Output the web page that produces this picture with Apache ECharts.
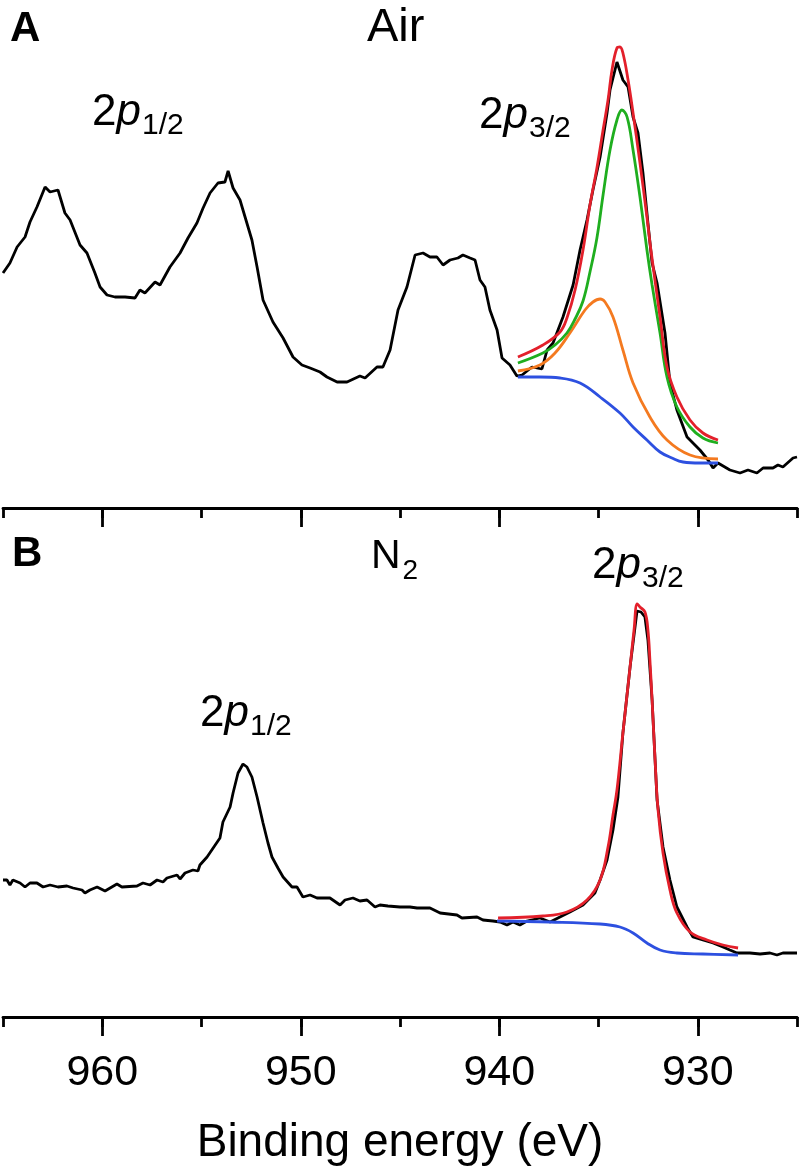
<!DOCTYPE html>
<html><head><meta charset="utf-8">
<script src="https://cdn.jsdelivr.net/npm/echarts@6/dist/echarts.min.js"></script>
<style>html,body{margin:0;padding:0;background:#fff}#c{width:807px;height:1172px}</style>
</head><body><div id="c"></div><script>
// ---------- data (binding energy eV, intensity a.u.) ----------
const labelTicks = [960, 950, 940, 930];

// Panel A: Air
const airRaw = [[965.00,235],[964.65,245],[964.29,261],[963.89,271],[963.64,286],[963.29,301],[962.88,321],[962.63,316],[962.23,318],[961.88,295],[961.62,288],[961.12,263],[960.77,255],[960.37,235],[960.11,221],[959.76,213],[959.36,211],[958.85,211],[958.35,210],[958.10,218],[957.85,215],[957.34,226],[957.09,223],[956.59,241],[956.08,255],[955.68,270],[955.23,285],[954.92,300],[954.57,315],[954.17,325],[953.82,326],[953.66,337],[953.41,320],[953.06,308],[952.46,268],[952.20,241],[951.90,208],[951.40,186],[950.89,170],[950.39,151],[949.94,143],[949.53,140],[949.03,136],[948.68,131],[948.17,126],[947.67,126],[947.02,132],[946.76,130],[946.16,141],[945.86,141],[945.50,158],[945.10,198],[944.65,221],[944.24,253],[943.84,255],[943.49,251],[943.14,251],[942.83,243],[942.48,248],[942.08,250],[941.83,253],[941.47,250],[941.22,248],[940.97,228],[940.72,221],[940.47,198],[940.11,178],[939.86,150],[939.46,143],[939.11,132],[938.85,133],[938.35,141],[937.85,139],[937.59,158],[937.29,165],[936.79,191],[936.28,223],[935.93,258],[935.58,288],[935.28,318],[934.92,351],[934.57,395],[934.42,418],[934.07,446],[934.02,448],[933.77,428],[933.51,421],[933.26,391],[933.01,375],[932.76,335],[932.51,285],[932.30,245],[932.05,225],[931.65,175],[931.40,125],[931.05,98],[930.54,71],[929.89,58],[929.48,48],[929.23,40],[928.98,45],[928.38,38],[927.87,35],[927.47,38],[927.02,35],[926.71,40],[926.21,40],[925.96,43],[925.71,41],[925.20,50],[925.00,51]];
const airFit = [[939.06,151],[937.80,163],[936.94,176],[936.59,190],[936.18,218],[935.78,258],[935.43,303],[935.08,340],[934.77,378],[934.52,408],[934.32,438],[934.07,460],[933.92,461],[933.77,455],[933.51,428],[933.26,395],[932.91,345],[932.56,291],[932.36,258],[931.90,191],[931.55,141],[931.05,111],[930.39,88],[929.74,75],[928.98,68]];
const airPeak1 = [[939.06,145],[937.80,155],[937.19,163],[936.59,175],[936.18,189],[935.78,207],[935.43,236],[935.08,270],[934.77,313],[934.42,358],[934.07,388],[933.82,398],[933.56,391],[933.26,358],[932.91,311],[932.56,258],[932.30,223],[931.90,175],[931.55,131],[931.05,101],[930.39,81],[929.74,70],[928.98,65]];
const airPeak2 = [[939.06,137],[937.95,143],[937.19,155],[936.44,175],[935.68,198],[935.28,206],[934.92,209],[934.67,206],[934.27,191],[933.77,158],[933.26,125],[932.41,91],[931.55,68],[930.39,53],[928.98,49]];
const airBg = [[939.06,131],[937.95,131],[936.94,130],[935.93,125],[934.92,111],[933.92,95],[933.26,81],[932.56,68],[931.90,56],[931.30,50],[930.74,46],[929.89,45],[928.98,45]];

// Panel B: N2
const n2Raw = [[965.00,137],[964.80,137],[964.65,132],[964.50,137],[964.14,134],[963.89,130],[963.64,134],[963.29,134],[962.98,130],[962.63,132],[962.23,130],[961.78,131],[961.47,129],[961.02,127],[960.87,124],[960.62,127],[960.26,130],[959.86,126],[959.26,133],[959.01,130],[958.25,131],[957.95,134],[957.59,132],[957.24,137],[956.94,135],[956.74,139],[956.23,142],[956.08,138],[955.83,144],[955.43,147],[955.18,146],[955.08,152],[954.72,160],[954.07,179],[953.92,195],[953.56,210],[953.41,224],[953.16,244],[952.91,253],[952.71,250],[952.46,240],[952.20,220],[951.90,194],[951.65,174],[951.45,160],[951.15,149],[950.89,140],[950.44,130],[950.19,130],[949.89,120],[949.53,122],[949.18,119],[948.53,119],[948.02,112],[947.77,117],[947.37,119],[947.02,116],[946.66,117],[946.26,110],[946.01,112],[945.61,111],[945.00,110],[944.50,110],[944.14,109],[943.49,109],[942.98,104],[942.13,102],[941.88,99],[941.12,100],[940.82,97],[940.32,96],[939.96,95],[939.61,92],[939.31,95],[938.96,92],[938.60,96],[937.95,99],[937.44,95],[936.94,100],[936.44,105],[935.78,112],[935.18,124],[934.92,137],[934.57,157],[934.27,187],[934.02,220],[933.77,284],[933.41,350],[933.06,406],[932.86,405],[932.66,400],[932.51,377],[932.30,317],[932.05,217],[931.75,170],[931.40,137],[931.05,110],[930.54,90],[930.24,80],[929.74,77],[929.23,74],[928.73,70],[928.38,67],[928.02,64],[927.37,64],[926.86,63],[926.36,64],[926.01,62],[925.71,64],[925.00,64]];
const n2Fit = [[940.06,99],[937.80,101],[936.59,105],[935.58,117],[934.92,137],[934.52,170],[934.27,202],[934.07,227],[933.77,284],[933.41,350],[933.21,387],[933.05,413],[932.91,410],[932.66,405],[932.51,387],[932.41,357],[932.30,317],[932.15,257],[932.00,207],[931.75,164],[931.40,127],[931.05,104],[930.39,85],[929.53,77],[928.73,72],[927.97,69]];
const n2Bg = [[940.11,96],[937.44,95],[934.92,93],[933.92,90],[933.26,84],[932.56,74],[931.90,67],[931.05,64],[929.74,63],[927.97,62]];

// ---------- styling ----------
const FONT = '"Liberation Sans", Arial, Helvetica, sans-serif';
const BLACK = '#000';
const RED = '#e3202b', GREEN = '#1fae1f', ORANGE = '#f47a20', BLUE = '#2d50e0';

function xAxes(gridIndex, showLabels) {
  const common = { type: 'value', gridIndex, min: 925, max: 965, inverse: true, position: 'bottom', splitLine: { show: false } };
  return [
    Object.assign({}, common, {
      interval: 5,
      axisLine: { show: true, onZero: false, lineStyle: { color: BLACK, width: 2.8 } },
      axisTick: { show: true, length: 10, lineStyle: { color: BLACK, width: 2.8 } },
      axisLabel: { show: false }
    }),
    Object.assign({}, common, {
      interval: 5,
      axisLine: { show: false, onZero: false },
      axisTick: { show: true, length: 19, customValues: labelTicks, lineStyle: { color: BLACK, width: 2.8 } },
      axisLabel: { show: showLabels, customValues: labelTicks, margin: 35, fontSize: 43, color: BLACK, fontFamily: FONT },
      name: showLabels ? 'Binding energy (eV)' : '',
      nameLocation: 'middle', nameGap: 103,
      nameTextStyle: { fontSize: 46, color: BLACK, fontFamily: FONT }
    })
  ];
}

function line(data, color, xi, yi, smooth) {
  return { type: 'line', data, xAxisIndex: xi, yAxisIndex: yi, showSymbol: false, symbol: 'none',
    smooth: smooth ? 0.4 : false, lineStyle: { color, width: 2.8 }, silent: true, clip: true };
}

function peakLabel(x, y, sub) {
  return { type: 'text', x, y, style: {
    text: '{n|2}{i|p}{s|' + sub + '}', verticalAlign: 'top', align: 'left', fill: BLACK,
    rich: {
      n: { fontSize: 44, fontFamily: FONT, lineHeight: 44, verticalAlign: 'top', fill: BLACK },
      i: { fontSize: 44, fontFamily: FONT, fontStyle: 'italic', lineHeight: 44, verticalAlign: 'top', fill: BLACK },
      s: { fontSize: 30, fontFamily: FONT, lineHeight: 30, verticalAlign: 'top', padding: [20, 0, 0, 1], fill: BLACK }
    } } };
}

const option = {
  animation: false,
  backgroundColor: '#fff',
  grid: [
    { left: 3, right: 10, top: 8, height: 500 },
    { left: 3, right: 10, top: 517, height: 500 }
  ],
  xAxis: [].concat(xAxes(0, false), xAxes(1, true)),
  yAxis: [
    { type: 'value', gridIndex: 0, min: 0, max: 500, show: false },
    { type: 'value', gridIndex: 1, min: 0, max: 500, show: false }
  ],
  series: [
    line(airRaw, BLACK, 0, 0, false),
    line(airBg, BLUE, 0, 0, true),
    line(airPeak2, ORANGE, 0, 0, true),
    line(airPeak1, GREEN, 0, 0, true),
    line(airFit, RED, 0, 0, true),
    line(n2Raw, BLACK, 2, 1, false),
    line(n2Bg, BLUE, 2, 1, true),
    line(n2Fit, RED, 2, 1, true)
  ],
  graphic: [
    { type: 'text', x: 10, y: 29, style: { text: 'A', font: 'bold 42px ' + FONT, fill: BLACK, verticalAlign: 'middle' } },
    { type: 'text', x: 367, y: 28, style: { text: 'Air', font: '47px ' + FONT, fill: BLACK, verticalAlign: 'middle' } },
    peakLabel(92, 91, '1/2'),
    peakLabel(479, 94, '3/2'),
    { type: 'text', x: 12, y: 554, style: { text: 'B', font: 'bold 42px ' + FONT, fill: BLACK, verticalAlign: 'middle' } },
    { type: 'text', x: 371, y: 536, style: { text: '{n|N}{s|2}', verticalAlign: 'top', fill: BLACK,
      rich: {
        n: { fontSize: 41, fontFamily: FONT, lineHeight: 41, verticalAlign: 'top', fill: BLACK },
        s: { fontSize: 28, fontFamily: FONT, lineHeight: 28, verticalAlign: 'top', padding: [21, 0, 0, 2], fill: BLACK }
      } } },
    peakLabel(592, 544, '3/2'),
    peakLabel(200, 692, '1/2')
  ]
};

const chart = echarts.init(document.getElementById('c'), null, { renderer: 'canvas' });
chart.setOption(option);
</script></body></html>
